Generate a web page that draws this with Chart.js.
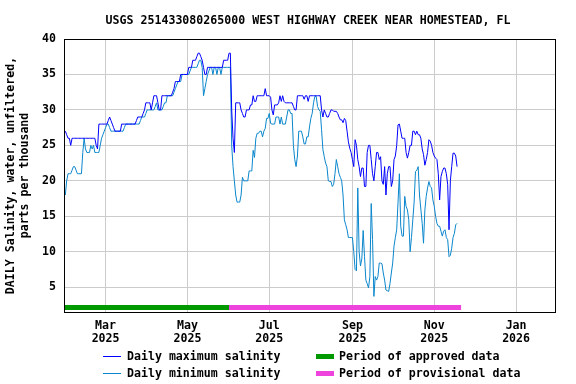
<!DOCTYPE html>
<html>
<head>
<meta charset="utf-8">
<script src="https://cdn.jsdelivr.net/npm/chart.js@4.4.1/dist/chart.umd.min.js"></script>
<style>
  body { margin: 0; background: #fff; }
  #wrap { position: relative; width: 576px; height: 384px; font: bold 11.6px "DejaVu Sans Mono", monospace; color: #000; }
  #title { position: absolute; top: 13px; left: 42px; width: 532px; text-align: center; white-space: pre; }
  .leg { position: absolute; white-space: pre; line-height: 14px; }
  .sw { position: absolute; }
</style>
</head>
<body>
<div id="wrap">
  <canvas id="c" width="576" height="384"></canvas>
  <div id="title">USGS 251433080265000 WEST HIGHWAY CREEK NEAR HOMESTEAD, FL</div>
  <div class="sw" style="left:103px;top:356px;width:18px;height:1px;background:#0000ff"></div>
  <div class="leg" style="left:127px;top:349px">Daily maximum salinity</div>
  <div class="sw" style="left:103px;top:373px;width:18px;height:1px;background:#0a86cc"></div>
  <div class="leg" style="left:127px;top:366px">Daily minimum salinity</div>
  <div class="sw" style="left:316px;top:354px;width:18px;height:5px;background:#009900"></div>
  <div class="leg" style="left:339px;top:349px">Period of approved data</div>
  <div class="sw" style="left:316px;top:371px;width:18px;height:5px;background:#ee44dd"></div>
  <div class="leg" style="left:339px;top:366px">Period of provisional data</div>
</div>
<script>
// day index = days since 1 Jan 2025, first value is 30 Jan 2025
const startDay = 29;

const dailyMax = [
  27, 26.5, 26, 26, 25, 26, 26, 26, 26, 26, 26, 26, 26, 26, 26, 26, 26, 26, 26, 26,
  26, 26, 26, 25, 24.5, 28, 28, 28, 28, 28, 28, 28, 28.5, 29, 28.5, 28, 27.5, 27, 27, 27,
  27, 27, 28, 28, 28, 28, 28, 28, 28, 28, 28, 28, 28, 28.5, 29, 29, 29, 29, 29.5, 30,
  31, 31, 31, 31, 30, 31, 32, 32, 32, 31, 30, 30, 32, 32, 32, 32, 32, 32, 32, 32,
  32.5, 33, 34, 34, 34, 34, 35, 35, 35, 35, 35, 35, 36, 36, 36, 37, 37, 37, 37.5, 38,
  38, 37.5, 37, 36, 35, 35, 36, 36, 36, 36, 36, 36, 36, 36, 36, 36, 36, 36, 37, 37,
  37, 37, 38, 38, 30, 26, 24, 31, 31, 31, 31, 30, 29.5, 29, 29, 30, 30, 30, 30.7, 30.7,
  32, 31.2, 31.2, 32, 32, 32, 32, 32, 32, 33, 32, 32, 32, 31.8, 30, 29.3, 30.7, 30.7, 30.7, 31,
  32, 31.2, 32, 31.2, 31, 31, 31, 31, 31, 31, 30.5, 30, 30, 32, 32, 32, 32, 32, 31.5, 32,
  32, 31.2, 32, 32, 32, 32, 32, 32, 32, 32, 32, 30, 29, 30, 29.5, 29, 29, 29.5, 30, 30,
  29.8, 29.8, 29.8, 29.5, 29, 28.6, 28.6, 28.2, 28.8, 28.5, 27, 25.5, 24.6, 24, 23, 22, 25.8, 25, 23, 22,
  20.6, 21.8, 21.8, 19.2, 19.2, 24, 25, 25, 23, 21, 20, 22, 24, 24, 23, 23.4, 20, 19.5, 22, 18,
  21, 22, 22, 19.2, 20, 23, 23.5, 25, 27.9, 28, 27, 26, 26, 26, 24, 23.2, 24, 25, 25, 27,
  27, 26.5, 27, 26.5, 26.5, 26, 24.5, 23.7, 22.2, 23, 24, 25.8, 25.6, 25, 24, 23.5, 23.2, 23, 21, 17.3,
  20.6, 21.3, 21.8, 21.8, 21, 19.5, 13.1, 20, 22, 23.9, 23.9, 23.5, 22
];

const dailyMin = [
  18, 20, 21, 21, 21, 21.5, 22, 22, 21.5, 21, 21, 21, 21, 24, 26, 24.5, 24, 24, 24, 25,
  24.5, 25, 24, 24, 24, 24, 25, 26, 26.5, 27, 27.5, 28, 28, 27.5, 27, 27, 27, 27, 27, 27,
  27, 27, 27, 27, 27.5, 28, 28, 28, 28, 28, 28, 28, 28, 28, 28, 28, 28.5, 29, 29, 29,
  29.5, 30, 30, 30, 30, 30, 30, 30.5, 31, 30, 30, 30, 30, 30.5, 31, 31, 32, 32, 32, 32,
  32, 32.5, 33, 33.5, 34, 34, 34, 35, 35, 35, 35, 35, 35, 35.5, 36, 36, 36, 36, 36, 36.5,
  37, 37, 36, 32, 33, 34, 35, 35.5, 36, 36, 35, 36, 36, 35, 36, 36, 35, 36, 36, 36,
  36, 36, 36, 36, 25, 22, 20, 18, 17, 17, 17, 18, 20.5, 20, 20, 20, 20, 21.4, 21.4, 21.4,
  24.3, 23.3, 26, 26.7, 26.7, 27, 27, 26.2, 27, 27.4, 28.8, 28.8, 29.5, 28.1, 28, 28, 28, 29, 29, 29,
  28, 29, 28, 28, 28, 29, 30, 30, 29.5, 29.5, 25, 23, 22, 23.5, 27, 27, 27, 26.2, 25.2, 25.2,
  26.2, 26.2, 27.6, 28.8, 29.5, 31, 31.9, 31.9, 30.5, 30, 29.8, 27.2, 24.4, 23.4, 22.5, 22, 20, 19.9, 19.9, 19.2,
  19.5, 21, 23, 22, 21, 20.5, 20, 18, 14.5, 13.8, 13.1, 12, 12, 12, 12, 10, 7.5, 7.3, 19, 10,
  8, 9, 13, 9.3, 6, 5.5, 4.9, 6.5, 16.8, 11.7, 3.7, 6.5, 6, 6.5, 8.4, 8.4, 8.3, 7, 6, 4.6,
  4.5, 4.4, 5.5, 7, 8.4, 10.8, 12, 13.1, 17, 21, 13.6, 12.2, 12.2, 17.8, 16.4, 15.9, 14.5, 10, 12, 14.5,
  17, 21.3, 21.5, 22, 18, 16, 14, 11.2, 15.9, 17.8, 19, 19.9, 19.2, 19, 17.3, 16.4, 15, 14, 13.6, 13.6,
  12.9, 12.2, 12.9, 13.1, 12, 11.7, 9.3, 9.5, 10.5, 12, 12.6, 13.8, 14
];

// x axis ticks (first of month) and labels
const tickDays = [59, 120, 181, 243, 304, 365];
const tickMonths = ['Mar', 'May', 'Jul', 'Sep', 'Nov', 'Jan'];
const tickYears = ['2025', '2025', '2025', '2025', '2025', '2026'];
const yTicks = [5, 10, 15, 20, 25, 30, 35, 40];

// data-status periods, in day index
const approvedPeriod = [28, 151];
const provisionalPeriod = [151, 324];
const periodLevel = 2.15;

const xMin = 28, xMax = 394;
const yMin = 1.5, yMax = 40;

const toPoints = (arr) => arr.map((v, i) => ({ x: startDay + i, y: v }));
const periodPoints = (p) => [{ x: p[0], y: periodLevel }, { x: p[1], y: periodLevel }];

const FONT = { family: '"DejaVu Sans Mono", monospace', size: 11.6, weight: 'bold', lineHeight: 1.1 };

const frame = {
  id: 'frame',
  afterDraw(chart) {
    const { ctx, chartArea: a } = chart;
    ctx.save();
    ctx.strokeStyle = '#000';
    ctx.lineWidth = 1;
    ctx.strokeRect(Math.round(a.left) + 0.5, Math.round(a.top) + 0.5, Math.round(a.right - a.left), Math.round(a.bottom - a.top));
    ctx.restore();
  }
};

new Chart(document.getElementById('c'), {
  type: 'line',
  data: {
    datasets: [
      { data: toPoints(dailyMax), borderColor: '#0000ff', borderWidth: 1, pointRadius: 0, tension: 0 },
      { data: toPoints(dailyMin), borderColor: '#0a86cc', borderWidth: 1, pointRadius: 0, tension: 0 },
      { data: periodPoints(approvedPeriod), borderColor: '#009900', borderWidth: 5, pointRadius: 0, borderCapStyle: 'butt' },
      { data: periodPoints(provisionalPeriod), borderColor: '#ee44dd', borderWidth: 5, pointRadius: 0, borderCapStyle: 'butt' }
    ]
  },
  options: {
    responsive: false,
    animation: false,
    devicePixelRatio: 1,
    layout: { padding: { top: 39, right: 21, left: 0, bottom: 0 } },
    plugins: { legend: { display: false }, tooltip: { enabled: false } },
    scales: {
      x: {
        type: 'linear',
        min: xMin,
        max: xMax,
        afterBuildTicks: (s) => { s.ticks = tickDays.map(v => ({ value: v })); },
        afterFit: (s) => { s.height = 72; },
        grid: { color: '#cccccc', lineWidth: 1, drawTicks: false },
        border: { display: false },
        ticks: {
          color: '#000',
          font: FONT,
          padding: 8,
          maxRotation: 0,
          autoSkip: false,
          callback: (v) => {
            const i = tickDays.indexOf(v);
            return i < 0 ? '' : [tickMonths[i], tickYears[i]];
          }
        }
      },
      y: {
        min: yMin,
        max: yMax,
        afterBuildTicks: (s) => { s.ticks = yTicks.map(v => ({ value: v })); },
        afterFit: (s) => { s.width = 64; },
        grid: { color: '#cccccc', lineWidth: 1, drawTicks: false },
        border: { display: false },
        ticks: { color: '#000', font: FONT, padding: 8 },
        title: {
          display: true,
          text: ['DAILY Salinity, water, unfiltered,', 'parts per thousand'],
          color: '#000',
          font: { family: '"DejaVu Sans Mono", monospace', size: 11.6, weight: 'bold', lineHeight: 1.2 },
          padding: { top: 4, bottom: 0 }
        }
      }
    }
  },
  plugins: [frame]
});
</script>
</body>
</html>
